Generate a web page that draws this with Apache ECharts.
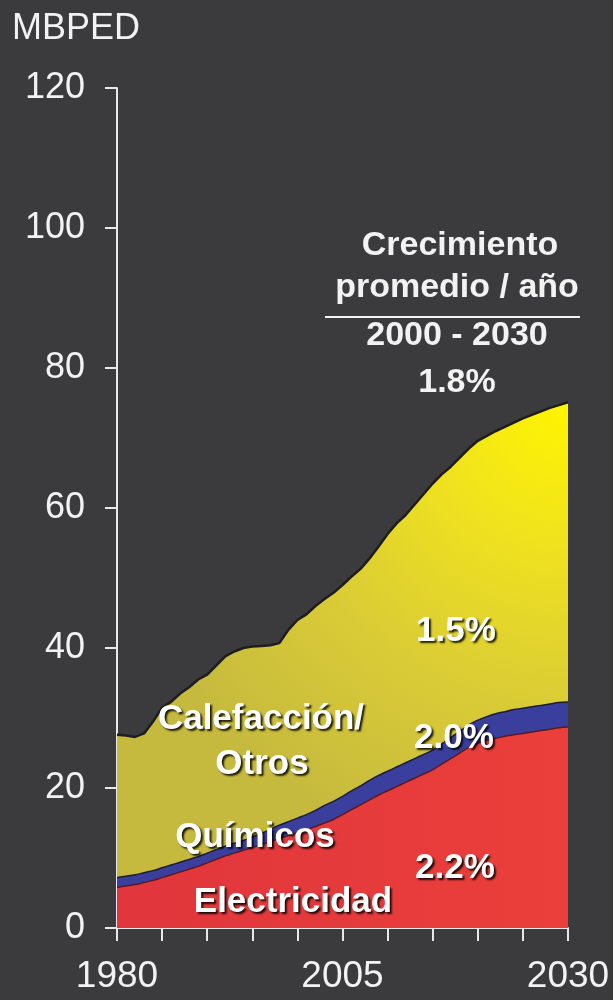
<!DOCTYPE html>
<html>
<head>
<meta charset="utf-8">
<script src="https://cdn.jsdelivr.net/npm/echarts@6/dist/echarts.min.js"></script>
<style>
html,body{margin:0;padding:0;background:#3b3a3d;}
#c{width:613px;height:1000px;}
</style>
</head>
<body>
<div id="c"></div>
<script>
// Years 1980..2030
var years = [];
for (var y = 1980; y <= 2030; y++) years.push(String(y));

// Electricidad (MBPED)
var electricidad = [5.8,6.0,6.2,6.5,6.8,7.2,7.6,8.0,8.4,8.8,
  9.3,9.8,10.3,10.7,11.1,11.5,11.9,12.3,12.8,13.2,
  13.6,14.0,14.5,15.0,15.5,16.2,16.9,17.6,18.3,19.0,
  19.6,20.2,20.8,21.4,22.0,22.6,23.4,24.2,25.0,25.8,
  26.4,26.8,27.1,27.4,27.6,27.8,28.0,28.2,28.4,28.6,28.7];
// Químicos
var quimicos = [1.4,1.4,1.4,1.4,1.4,1.4,1.4,1.4,1.4,1.4,
  1.4,1.4,1.4,1.4,1.4,1.5,1.6,1.8,1.9,2.0,
  2.1,2.2,2.3,2.5,2.6,2.6,2.7,2.7,2.8,2.8,
  2.8,2.8,2.8,2.8,2.8,2.8,2.9,3.0,3.1,3.2,
  3.3,3.4,3.5,3.5,3.6,3.6,3.6,3.6,3.6,3.6,3.6];
// Calefacción / Otros
var calefaccion = [20.4,20.1,19.7,19.9,21.3,22.9,23.3,24.1,24.6,25.3,
  25.5,26.3,27.1,27.4,27.5,27.2,26.8,26.3,26.0,27.4,
  28.3,28.6,29.2,29.5,29.8,30.2,30.6,31.0,31.7,32.7,
  33.9,34.8,35.4,36.3,37.2,38.1,38.5,38.7,39.1,39.5,
  39.9,40.1,40.4,40.7,41.0,41.4,41.7,42.0,42.3,42.5,42.8];

var yTicks = [0, 20, 40, 60, 80, 100, 120];
var xLabelYears = ['1980', '2005', '2030'];

var chart = echarts.init(document.getElementById('c'), null, {renderer: 'canvas'});
var axisColor = '#e8e8e8';
var txt = '#f2f2f2';
var labelStyle = {
  fill: '#ffffff', fontFamily: 'Liberation Sans, Arial, sans-serif', fontWeight: 'bold',
  fontSize: 35, textAlign: 'center', textVerticalAlign: 'middle',
  textShadowColor: 'rgba(0,0,0,0.85)', textShadowBlur: 2, textShadowOffsetX: 2, textShadowOffsetY: 2
};
function lbl(text, x, y, size) {
  var s = Object.assign({}, labelStyle, {text: text, x: x, y: y});
  if (size) s.fontSize = size;
  return {type: 'text', style: s, z: 100};
}
var headStyle = {fill: txt, fontFamily: 'Liberation Sans, Arial, sans-serif', fontWeight: 'bold', fontSize: 34, textAlign: 'center', textVerticalAlign: 'middle'};
function head(text, x, y) {
  return {type: 'text', style: Object.assign({}, headStyle, {text: text, x: x, y: y}), z: 100};
}

var option = {
  backgroundColor: '#3b3a3d',
  animation: false,
  grid: {left: 117, right: 45, top: 88, bottom: 72, containLabel: false},
  xAxis: {
    type: 'category',
    data: years,
    boundaryGap: false,
    axisLine: {lineStyle: {color: axisColor, width: 2}},
    axisTick: {show: true, interval: 4, length: 13, lineStyle: {color: axisColor, width: 2}},
    axisLabel: {
      color: txt, fontSize: 37, fontFamily: 'Liberation Sans, Arial, sans-serif', margin: 30,
      interval: function (idx, val) { return xLabelYears.indexOf(val) >= 0; }
    },
    splitLine: {show: false}
  },
  yAxis: {
    type: 'value',
    min: yTicks[0], max: yTicks[yTicks.length - 1], interval: 20,
    axisLine: {show: true, lineStyle: {color: axisColor, width: 2}},
    axisTick: {show: true, length: 12, lineStyle: {color: axisColor, width: 2}},
    axisLabel: {color: txt, fontSize: 36, fontFamily: 'Liberation Sans, Arial, sans-serif', margin: 32},
    splitLine: {show: false}
  },
  series: [
    {
      name: 'Electricidad', type: 'line', stack: 'total', data: electricidad,
      showSymbol: false, symbol: 'none', smooth: 0.3,
      lineStyle: {color: '#5a1a22', width: 1.5},
      areaStyle: {color: {type: 'linear', x: 0, y: 0, x2: 1, y2: 0, colorStops: [
        {offset: 0, color: '#e0363c'}, {offset: 1, color: '#ea3f3a'}]}, opacity: 1}
    },
    {
      name: 'Químicos', type: 'line', stack: 'total', data: quimicos,
      showSymbol: false, symbol: 'none', smooth: 0.3,
      lineStyle: {color: '#1c1c30', width: 1.5},
      areaStyle: {color: '#3a3f9e', opacity: 1}
    },
    {
      name: 'Calefacción/Otros', type: 'line', stack: 'total', data: calefaccion,
      showSymbol: false, symbol: 'none',
      lineStyle: {color: '#1e1d22', width: 2.5},
      areaStyle: {color: {type: 'radial', x: 1, y: 0, r: 1.05, colorStops: [
        {offset: 0, color: '#fff500'}, {offset: 0.3, color: '#f0e21e'},
        {offset: 0.65, color: '#d9cb36'}, {offset: 1, color: '#c6ba3e'}]}, opacity: 1}
    }
  ],
  graphic: [
    {type: 'text', style: {text: 'MBPED', x: 12, y: 29, fill: txt, fontSize: 36,
      fontFamily: 'Liberation Sans, Arial, sans-serif', textAlign: 'left', textVerticalAlign: 'middle'}},
    head('Crecimiento', 460, 246),
    head('promedio / año', 457, 288),
    {type: 'line', shape: {x1: 325, y1: 317, x2: 580, y2: 317}, style: {stroke: txt, lineWidth: 2}},
    head('2000 - 2030', 457, 336),
    head('1.8%', 457, 383),
    lbl('1.5%', 456, 631),
    lbl('Calefacción/', 261, 719),
    lbl('Otros', 262, 764),
    lbl('2.0%', 454, 738),
    lbl('Químicos', 255, 837),
    lbl('2.2%', 455, 868),
    lbl('Electricidad', 293, 902)
  ]
};
chart.setOption(option);
</script>
</body>
</html>
